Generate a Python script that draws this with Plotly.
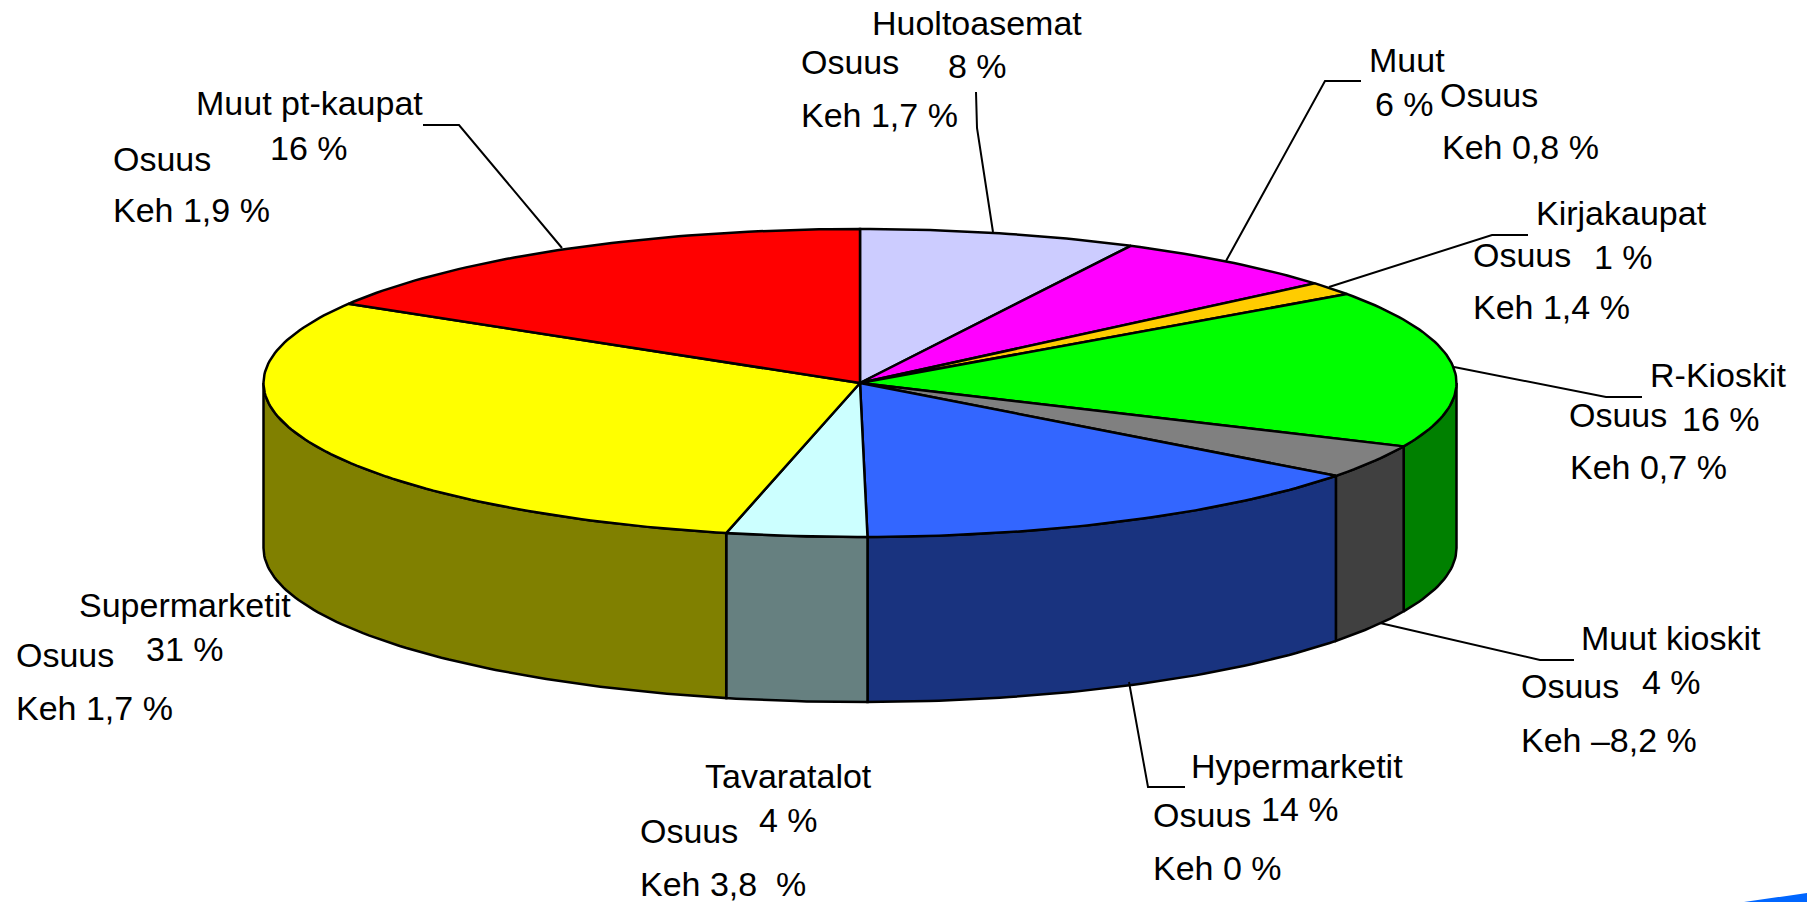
import numpy as np
import plotly.graph_objects as go

# ---- data ----
categories = ["Huoltoasemat", "Muut", "Kirjakaupat", "R-Kioskit", "Muut kioskit",
              "Hypermarketit", "Tavaratalot", "Supermarketit", "Muut pt-kaupat"]
slice_shares = [7.5, 6.3, 1.4, 16.55, 3.55, 14.5, 3.8, 30.0, 16.4]
share_labels = ["8 %", "6 %", "1 %", "16 %", "4 %", "14 %", "4 %", "31 %", "16 %"]
change_labels = ["Keh 1,7 %", "Keh 0,8 %", "Keh 1,4 %", "Keh 0,7 %", "Keh \u20138,2 %",
                 "Keh 0 %", "Keh 3,8  %", "Keh 1,7 %", "Keh 1,9 %"]

# ---- styles ----
top_colors = ["#CCCCFF", "#FF00FF", "#FFCC00", "#00FF00", "#808080",
              "#3366FF", "#CCFFFF", "#FFFF00", "#FF0000"]
side_colors = ["#666680", "#800080", "#806600", "#008000", "#404040",
               "#19337F", "#668080", "#808000", "#800000"]

# ---- layout geometry (pixels of the 1807x902 page) ----
CX, CY, RX, RY, DEPTH = 860.0, 383.0, 596.5, 154.0, 165.0
FONT = dict(family="Liberation Sans, Arial, sans-serif", size=34, color="#000000")

# label placement per category: name, Osuus, share, Keh  (left x, middle y)
label_pos = [
    ((872, 23), (801, 62), (948, 66), (801, 115)),
    ((1369, 60), (1440, 95), (1375, 104), (1442, 147)),
    ((1536, 213), (1473, 255), (1594, 257), (1473, 307)),
    ((1650, 375), (1569, 415), (1682, 419), (1570, 467)),
    ((1581, 638), (1521, 686), (1642, 682), (1521, 740)),
    ((1191, 766), (1153, 815), (1261, 809), (1153, 868)),
    ((705, 776), (640, 831), (759, 820), (640, 884)),
    ((79, 605), (16, 655), (146, 649), (16, 708)),
    ((196, 103), (113, 159), (270, 148), (113, 210)),
]
leader_paths = [
    [(976, 92), (977, 128), (993, 232)],
    [(1361, 81), (1325, 81), (1226, 261)],
    [(1528, 235), (1492, 235), (1329, 287)],
    [(1642, 397), (1606, 397), (1454, 367)],
    [(1574, 660), (1540, 660), (1380, 623)],
    [(1185, 787), (1148, 787), (1129, 682)],
    [(423, 125), (459, 125), (562, 248)],
]

LINE = dict(color="#000000", width=2.5)
LEADER = dict(color="#000000", width=2)


def rim(t0, t1, drop=0.0):
    n = max(2, int(abs(t1 - t0) / 1.0) + 2)
    t = np.radians(np.linspace(t0, t1, n))
    return CX + RX * np.sin(t), CY - RY * np.cos(t) + drop


fig = go.Figure()

edges = np.concatenate([[0.0], np.cumsum(slice_shares)]) * 3.6

# front wall of the cylinder (only the part between 90 and 270 degrees shows)
for i, col in enumerate(side_colors):
    a, b = max(edges[i], 90.0), min(edges[i + 1], 270.0)
    if b <= a:
        continue
    x1, y1 = rim(a, b)
    x2, y2 = rim(b, a, DEPTH)
    fig.add_trace(go.Scatter(x=np.r_[x1, x2, x1[0]], y=np.r_[y1, y2, y1[0]], mode="lines",
                             fill="toself", fillcolor=col, line=LINE, hoverinfo="skip"))

# top face
for i, col in enumerate(top_colors):
    x1, y1 = rim(edges[i], edges[i + 1])
    fig.add_trace(go.Scatter(x=np.r_[CX, x1, CX], y=np.r_[CY, y1, CY], mode="lines",
                             fill="toself", fillcolor=col, line=LINE, hoverinfo="skip",
                             name=categories[i]))

# leader lines
for path in leader_paths:
    xs, ys = zip(*path)
    fig.add_trace(go.Scatter(x=xs, y=ys, mode="lines", line=LEADER, hoverinfo="skip"))

# texts
for i, name in enumerate(categories):
    texts = (name, "Osuus", share_labels[i], change_labels[i])
    for txt, (px, py) in zip(texts, label_pos[i]):
        fig.add_annotation(x=px, y=py, text=txt.replace("  ", "&nbsp; "), showarrow=False,
                           xanchor="left", yanchor="middle", font=FONT,
                           borderpad=0, borderwidth=0)

# blue corner decoration cut by the page edge
fig.add_shape(type="path", path="M 1744 902 L 1807 893 L 1807 902 Z",
              fillcolor="#0066FF", line=dict(width=0), layer="below")

fig.update_layout(
    width=1807, height=902, margin=dict(l=0, r=0, t=0, b=0),
    paper_bgcolor="#FFFFFF", plot_bgcolor="#FFFFFF", showlegend=False,
    xaxis=dict(range=[0, 1807], visible=False, fixedrange=True),
    yaxis=dict(range=[902, 0], visible=False, fixedrange=True),
)
fig.write_html("out.html", config={"displayModeBar": False},
               post_script="document.body.style.margin='0';document.body.style.overflow='hidden';")
